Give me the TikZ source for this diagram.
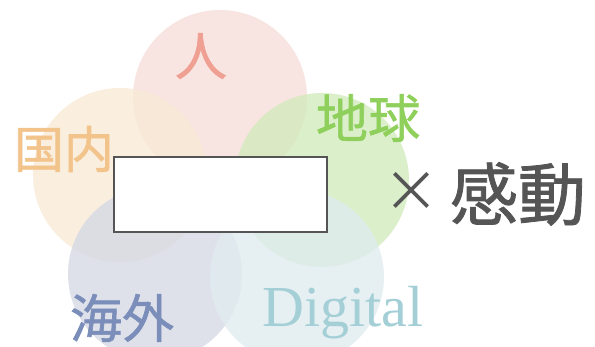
\documentclass[tikz,border=0pt]{standalone}
\usepackage{fontspec}
\setmainfont{Liberation Serif}
\newfontfamily\cjk{Noto Sans CJK JP}
\newfontfamily\cjkbold[FakeBold=1.2]{Noto Sans CJK JP}
\definecolor{cpink}{RGB}{246,221,216}
\definecolor{corange}{RGB}{249,234,214}
\definecolor{cgreen}{RGB}{211,235,190}
\definecolor{cblue}{RGB}{214,217,229}
\definecolor{clblue}{RGB}{224,236,239}
\definecolor{tpink}{HTML}{EFA092}
\definecolor{torange}{HTML}{F2C48C}
\definecolor{tgreen}{HTML}{8FD05C}
\definecolor{tblue}{HTML}{7B8EBA}
\definecolor{tlblue}{HTML}{A4CFD6}
\definecolor{tgrey}{HTML}{555555}
\tikzset{
  petal/.style={circle, minimum size=174pt, inner sep=0pt, fill opacity=0.8},
  lbl/.style={inner sep=0pt, anchor=center},
  centerbox/.style={draw=tgrey, line width=1.8pt, fill=white, minimum width=213pt, minimum height=75pt, inner sep=0pt}
}
\begin{document}
\begin{tikzpicture}[x=1pt,y=-1pt]
\useasboundingbox (0,0) rectangle (595,347);
\node[petal, fill=cpink] (pink) at (220,97) {};
\node[petal, fill=corange] (orange) at (120,175) {};
\node[petal, fill=cgreen] (green) at (322,180) {};
\node[petal, fill=cblue] (blue) at (155,274) {};
\node[petal, fill=clblue] (lblue) at (297,277) {};
\node[lbl, text=tpink] (hito) at (201,56) {\cjkbold\fontsize{52}{52}\selectfont 人};
\node[lbl, text=torange] (kokunai) at (64,149) {\cjkbold\fontsize{50}{50}\selectfont 国内};
\node[lbl, text=tgreen] (chikyu) at (368,118) {\cjkbold\fontsize{52}{52}\selectfont 地球};
\node[lbl, text=tblue] (kaigai) at (122,318) {\cjkbold\fontsize{52}{52}\selectfont 海外};
\node[lbl, text=tlblue] (digital) at (343,313) {\fontsize{58}{58}\selectfont Digital};
\node[centerbox] (box) at (220.5,194.5) {};
\node[lbl, text=tgrey] (times) at (411,192) {\cjk\fontsize{56}{56}\selectfont ×};
\node[lbl, text=tgrey] (kando) at (518,194) {\cjkbold\fontsize{68}{68}\selectfont 感動};
\end{tikzpicture}
\end{document}
